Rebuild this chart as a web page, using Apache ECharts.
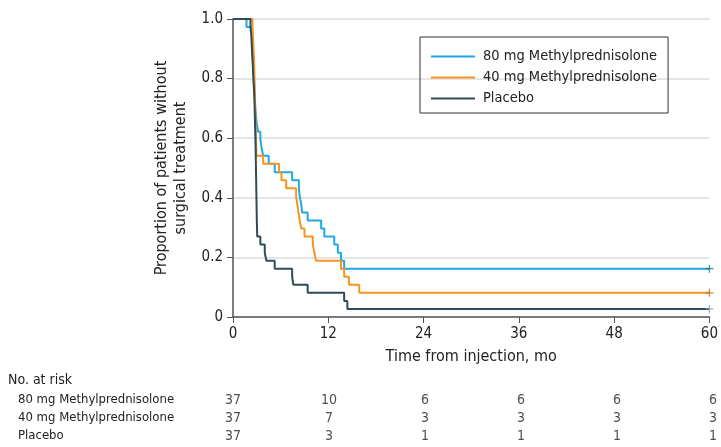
<!DOCTYPE html>
<html>
<head>
<meta charset="utf-8">
<script src="https://cdn.jsdelivr.net/npm/echarts@6/dist/echarts.min.js"></script>
<style>
html,body{margin:0;padding:0;background:#fff;}
#chart{width:721px;height:447px;}
</style>
</head>
<body>
<div id="chart"></div>
<script>
// ---- data ----
const groups = ['80 mg Methylprednisolone', '40 mg Methylprednisolone', 'Placebo'];
const timeTicks = [0, 12, 24, 36, 48, 60];
const yTicks = [0, 0.2, 0.4, 0.6, 0.8, 1.0];

const km80Times = [0, 1.7, 2.4, 2.5, 2.6, 2.7, 2.8, 2.9, 3.0, 3.15, 3.45, 3.6, 3.8, 4.5, 5.25, 7.45, 8.3, 8.4, 8.6, 8.7, 9.4, 11.1, 11.5, 12.75, 13.2, 13.6, 14.0, 60];
const km80Surv  = [1, .973, .919, .865, .811, .757, .703, .676, .649, .622, .595, .568, .541, .514, .486, .459, .432, .405, .378, .351, .324, .297, .270, .243, .216, .189, .162, .162];

const km40Times = [0, 2.45, 2.55, 2.65, 2.7, 2.75, 2.8, 2.85, 2.9, 2.95, 3.8, 5.8, 6.1, 6.7, 7.95, 8.1, 8.25, 8.4, 8.6, 9.0, 10.05, 10.25, 10.45, 13.6, 14.0, 14.6, 15.9, 60];
const km40Surv  = [1, .973, .919, .865, .811, .757, .703, .649, .595, .541, .514, .486, .459, .432, .405, .378, .351, .324, .297, .270, .243, .216, .189, .162, .135, .108, .081, .081];

const kmPlTimes = [0, 2.2, 2.3, 2.4, 2.5, 2.6, 2.7, 2.75, 2.8, 2.85, 2.9, 2.95, 3.0, 3.05, 3.45, 4.0, 4.2, 5.25, 7.45, 7.6, 9.4, 14.0, 14.4, 60];
const kmPlSurv  = [1, .973, .946, .892, .838, .784, .730, .676, .622, .568, .486, .405, .324, .270, .243, .216, .189, .162, .135, .108, .081, .054, .027, .027];

const censorTime = [60, 60, 60];
const censorSurv = [.162, .081, .027];

const atRisk80 = [37, 10, 6, 6, 6, 6];
const atRisk40 = [37, 7, 3, 3, 3, 3];
const atRiskPl = [37, 3, 1, 1, 1, 1];

// ---- styling ----
const FONT = "'DejaVu Sans Condensed', 'Liberation Sans Narrow', sans-serif";
const colors = ['#1eaae4', '#f7941e', '#2f4b57'];
const censorColors = ['#1d6b95', '#b36a1a', '#8a9aa3'];
const TXT = '#222';
const plusPath = 'path://M-0.8,-5 L0.8,-5 L0.8,-0.8 L5,-0.8 L5,0.8 L0.8,0.8 L0.8,5 L-0.8,5 L-0.8,0.8 L-5,0.8 L-5,-0.8 L-0.8,-0.8 Z';

const zip = (a, b) => a.map((v, i) => [v, b[i]]);
const kmSets = [zip(km80Times, km80Surv), zip(km40Times, km40Surv), zip(kmPlTimes, kmPlSurv)];
const riskSets = [atRisk80, atRisk40, atRiskPl];

const series = [];
kmSets.forEach((d, i) => {
  series.push({
    name: groups[i], type: 'line', step: 'end', data: d,
    xAxisIndex: 0, yAxisIndex: 0,
    symbol: 'none', lineStyle: { width: 2, color: colors[i] }, itemStyle: { color: colors[i] },
    z: 2 + i, animation: false
  });
});
series.push({
  type: 'scatter', xAxisIndex: 0, yAxisIndex: 0, symbol: plusPath, symbolSize: 8,
  data: censorTime.map((t, i) => ({ value: [t, censorSurv[i]], itemStyle: { color: censorColors[i] } })),
  z: 10, animation: false, silent: true
});
series.push({
  type: 'scatter', xAxisIndex: 1, yAxisIndex: 1, symbolSize: 1,
  itemStyle: { color: 'rgba(0,0,0,0)' },
  data: riskSets.flatMap((r, gi) => r.map((n, k) => [timeTicks[k], groups[gi], n])),
  label: { show: true, position: 'inside', formatter: p => String(p.value[2]),
           fontFamily: FONT, fontSize: 14, color: TXT },
  animation: false, silent: true
});

const chart = echarts.init(document.getElementById('chart'));
chart.setOption({
  backgroundColor: '#fff',
  animation: false,
  textStyle: { fontFamily: FONT },
  grid: [
    { left: 233, right: 8, top: 19, bottom: 130 },
    { left: 233, right: 8, top: 391, height: 54 }
  ],
  legend: {
    data: groups, orient: 'vertical', left: 420, top: 37,
    icon: 'rect',
    padding: [12, 11, 7, 11], itemWidth: 44, itemHeight: 2, itemGap: 6,
    borderColor: '#333', borderWidth: 1, borderRadius: 0,
    textStyle: { fontFamily: FONT, fontSize: 14.5, color: TXT, padding: [0, 0, 0, 3] }
  },
  xAxis: [
    {
      gridIndex: 0, type: 'value', min: 0, max: 60, interval: 12,
      name: 'Time from injection, mo', nameLocation: 'middle', nameGap: 32,
      nameTextStyle: { fontFamily: FONT, fontSize: 16, color: TXT },
      axisLine: { lineStyle: { color: '#555', width: 1.5 } },
      axisTick: { show: true, length: 6, lineStyle: { color: '#555' } },
      axisLabel: { fontFamily: FONT, fontSize: 15, color: TXT, margin: 10 },
      splitLine: { show: false }
    },
    {
      gridIndex: 1, type: 'value', min: 0, max: 60, interval: 12, show: false
    }
  ],
  yAxis: [
    {
      gridIndex: 0, type: 'value', min: 0, max: 1, interval: 0.2,
      name: 'Proportion of patients without\nsurgical treatment',
      nameLocation: 'middle', nameGap: 42,
      nameTextStyle: { fontFamily: FONT, fontSize: 16, color: TXT, lineHeight: 19 },
      axisLine: { show: true, lineStyle: { color: '#555', width: 1.5 } },
      axisTick: { show: true, length: 6, lineStyle: { color: '#555' } },
      axisLabel: { fontFamily: FONT, fontSize: 15, color: TXT, margin: 10,
                   formatter: v => v === 0 ? '0' : v.toFixed(1) },
      splitLine: { show: true, lineStyle: { color: '#dcdcdc', width: 1.5 } }
    },
    {
      gridIndex: 1, type: 'category', data: groups, inverse: true,
      axisLine: { show: false }, axisTick: { show: false }, splitLine: { show: false },
      axisLabel: { fontFamily: FONT, fontSize: 13, color: TXT, align: 'left', margin: 215, interval: 0 }
    }
  ],
  graphic: [
    { type: 'text', left: 8, top: 373, style: { text: 'No. at risk', font: '14px ' + FONT, fill: TXT } }
  ],
  series: series
});
</script>
</body>
</html>
